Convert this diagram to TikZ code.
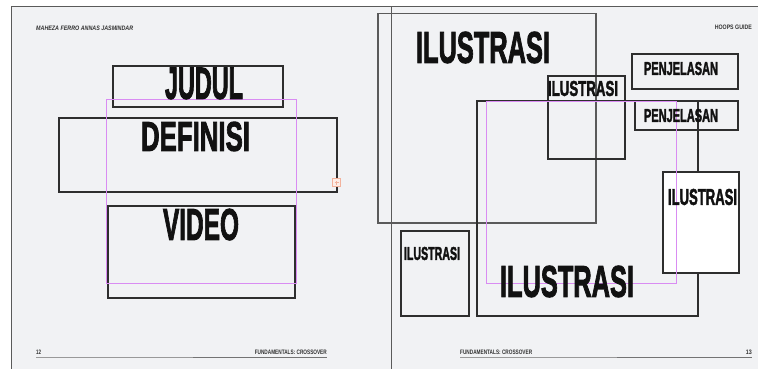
\documentclass[tikz,border=0pt]{standalone}
\usepackage{fontspec}
\setmainfont{Liberation Sans}
\newfontfamily\labelfont{Liberation Sans}[BoldFeatures={FakeBold=2.5}]
\newcommand{\fitt}[3]{\resizebox{#1pt}{#2pt}{\bfseries #3}}
\newcommand{\fitl}[3]{\resizebox{#1pt}{#2pt}{\labelfont\bfseries #3}}
\definecolor{pagebg}{HTML}{F1F2F4}
\definecolor{boxline}{HTML}{2E2E2E}
\definecolor{bigline}{HTML}{5A5A5A}
\definecolor{guide}{HTML}{D98CF2}
\definecolor{handleline}{HTML}{F2B29C}
\definecolor{handlefill}{HTML}{FCEDE7}
\definecolor{inkc}{HTML}{111111}
\tikzset{
  box/.style={draw=boxline, line width=1.8pt, inner sep=0pt, fill=none},
  bigbox/.style={draw=bigline, line width=1.8pt, inner sep=0pt},
  guidebox/.style={draw=guide, line width=1pt, inner sep=0pt},
  txt/.style={inner sep=0pt, text=inkc},
  small/.style={inner sep=0pt, text=black!80},
}
\begin{document}
\begin{tikzpicture}[x=1pt,y=-1pt]
\useasboundingbox (0,0) rectangle (758,369);
% page background
\fill[white] (0,0) rectangle (758,369);
\fill[pagebg] (11,7) rectangle (758,369);
\draw[bigline, line width=1pt] (11,369) -- (11,7) -- (758,7);
% spine
\node[inner sep=0pt, minimum width=0pt, minimum height=362pt] (spine) at (391.7,188) {};
\draw[bigline, line width=1pt] (spine.north) -- (spine.south);

% ---------- left page ----------
\node[box, minimum width=170pt, minimum height=41pt] (judul) at (198,86.5) {};
\node[box, minimum width=278pt, minimum height=74pt] (definisi) at (198,155) {};
\node[box, minimum width=187pt, minimum height=92pt] (video) at (201.5,252) {};
\node[guidebox, minimum width=190pt, minimum height=184pt] (guideL) at (201,191) {};
\node[draw=handleline, fill=handlefill, line width=0.8pt, minimum size=8pt, inner sep=0pt] (handle) at (336.5,182.5) {};
\draw[handleline, line width=0.6pt] ([xshift=-2pt]handle.center) -- ([xshift=2pt]handle.center)
  ([yshift=-2pt]handle.center) -- ([yshift=2pt]handle.center);

\node[txt] (tjudul) at (204,83.5) {\fitl{78}{31}{JUDUL}};
\node[txt] (tdefinisi) at (195.5,136.5) {\fitl{109}{29}{DEFINISI}};
\node[txt] (tvideo) at (201,224.5) {\fitl{76}{31}{VIDEO}};

% header / footer left
\node[small, anchor=west] (hl) at (36,28.3) {\fitt{97}{4.5}{\itshape MAHEZA FERRO ANNAS JASMINDAR}};
\node[small, anchor=west] (pl) at (36,352.5) {\fitt{5}{4.5}{12}};
\node[small, anchor=east] (fl) at (327,352.5) {\fitt{72}{4.5}{FUNDAMENTALS: CROSSOVER}};
\coordinate (fla) at (36,357.3);
\coordinate (flb) at (193,357.3);
\coordinate (flc) at (327,357.3);
\draw[black!55, line width=1pt] (fla) -- (flc);
\draw[black!40, line width=1.6pt] (fla) -- (flb);

% ---------- right page ----------
\node[bigbox, minimum width=218pt, minimum height=209.5pt] (bigill) at (487,118.25) {};
\node[box, minimum width=221pt, minimum height=215pt] (frame) at (587.5,208.5) {};
\node[box, line width=1.5pt, minimum width=77pt, minimum height=83pt] (midill) at (586.5,117.5) {};
\node[box, minimum width=106pt, minimum height=35pt] (penj1) at (685,71.5) {};
\node[box, minimum width=103pt, minimum height=29pt] (penj2) at (686.5,115.5) {};
\node[box, fill=white, minimum width=76pt, minimum height=101pt] (rightill) at (701,222.5) {};
\node[box, minimum width=68pt, minimum height=85pt] (smallill) at (435,273.5) {};
\node[guidebox, minimum width=190pt, minimum height=182pt] (guideR) at (581,192) {};

\node[txt] (tbigill) at (483,47.5) {\fitl{134}{31}{ILUSTRASI}};
\node[txt] (tmidill) at (583,88.5) {\fitl{70}{15}{ILUSTRASI}};
\node[txt] (tpenj1) at (681,68.5) {\fitl{74}{13}{PENJELASAN}};
\node[txt] (tpenj2) at (681,115.5) {\fitl{74}{13}{PENJELASAN}};
\node[txt] (trightill) at (702.5,197) {\fitl{69}{16}{ILUSTRASI}};
\node[txt] (tsmallill) at (432,253.5) {\fitl{56}{13}{ILUSTRASI}};
\node[txt] (tframe) at (567,281.5) {\fitl{134}{31}{ILUSTRASI}};

% header / footer right
\node[small, anchor=east] (hr) at (752,27.5) {\fitt{37}{4.5}{HOOPS GUIDE}};
\node[small, anchor=west] (fr) at (460,352.5) {\fitt{72}{4.5}{FUNDAMENTALS: CROSSOVER}};
\node[small, anchor=east] (pr) at (752,352.5) {\fitt{6}{4.5}{13}};
\coordinate (fra) at (460,357.3);
\coordinate (frb) at (617,357.3);
\coordinate (frc) at (752,357.3);
\draw[black!55, line width=1pt] (fra) -- (frc);
\draw[black!40, line width=1.6pt] (fra) -- (frb);
\end{tikzpicture}
\end{document}
